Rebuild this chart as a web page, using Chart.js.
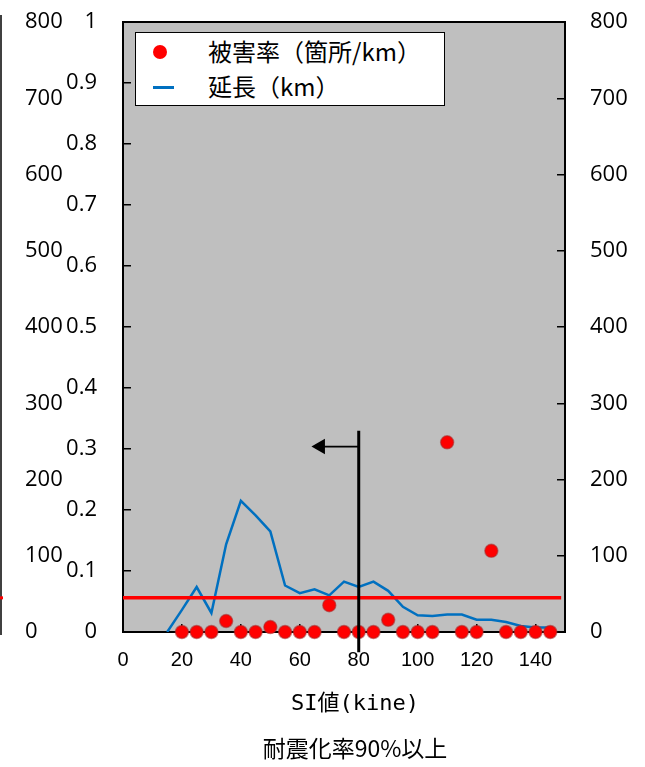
<!DOCTYPE html>
<html>
<head>
<meta charset="utf-8">
<script src="https://cdn.jsdelivr.net/npm/chart.js@4/dist/chart.umd.min.js"></script>
<style>
    html, body { margin: 0; padding: 0; background: #fff; }
    .wrap { position: relative; width: 645px; height: 767px; }
    .legendBox {
        position: absolute; left: 135px; top: 32px; width: 308px; height: 72px;
        background: #fff; border: 1.5px solid #000;
        font-family: "Noto Sans CJK JP", sans-serif; font-size: 24px; color: #000;
    }
    .legendBox .row { position: absolute; left: 0; height: 30px; line-height: 30px; }
    .legendBox .dot { position: absolute; left: 17px; top: 8px; width: 14px; height: 14px; border-radius: 50%; background: #ff0000; }
    .legendBox .dash { position: absolute; left: 17px; top: 14px; width: 21px; height: 3px; background: #0070c0; }
    .legendBox .txt { position: absolute; left: 72px; top: -1px; white-space: nowrap; }
</style>
</head>
<body>
<div class="wrap">
    <canvas id="siChart" width="645" height="767"></canvas>
    <div class="legendBox">
        <div class="row" style="top:4px"><span class="dot"></span><span class="txt">被害率（箇所/km）</span></div>
        <div class="row" style="top:39px"><span class="dash"></span><span class="txt">延長（km）</span></div>
    </div>
</div>
<script>
// SI value classes (kine)
const siValues = [15, 20, 25, 30, 35, 40, 45, 50, 55, 60, 65, 70, 75, 80, 85, 90, 95, 100, 105, 110, 115, 120, 125, 130, 135, 140, 145];
// damage rate (箇所/km), none at 15
const damageRate = [null, 0, 0, 0, 0.018, 0, 0, 0.008, 0, 0, 0, 0.044, 0, 0, 0, 0.02, 0, 0, 0, 0.311, 0, 0, 0.133, 0, 0, 0, 0];
// pipe length (km)
const lengthKm = [0, 29, 59, 25, 115, 172, 153, 132, 61, 51, 56, 48, 66, 59, 66, 54, 33, 22, 21, 23, 23, 16, 16, 13, 8, 6, 6];
// average damage rate line
const avgRateX = [0, 148.7];
const avgRate = 0.056;
// SI = 80 marker with arrow
const markerX = [80, 80];
const markerY = [0.33, -0.033];
const arrowX = [80, 67];
const arrowY = 0.304;

const rateTicks = ['0', '0.1', '0.2', '0.3', '0.4', '0.5', '0.6', '0.7', '0.8', '0.9', '1'];
const kmTicks = ['0', '100', '200', '300', '400', '500', '600', '700', '800'];
const siTicks = ['0', '20', '40', '60', '80', '100', '120', '140'];

const numFont = { family: "'Open Sans', sans-serif", size: 22 };

const plotFrame = {
    id: 'plotFrame',
    beforeDraw(chart) {
        const { ctx, chartArea } = chart;
        ctx.save();
        ctx.fillStyle = '#bfbfbf';
        ctx.fillRect(chartArea.left, chartArea.top, chartArea.width, chartArea.height);
        ctx.restore();
    },
    beforeDatasetsDraw(chart) {
        const { ctx, chartArea } = chart;
        ctx.save();
        ctx.strokeStyle = '#000';
        ctx.lineWidth = 2;
        ctx.strokeRect(chartArea.left, chartArea.top, chartArea.width, chartArea.height);
        // edge of the neighbouring panel on the far left
        ctx.lineWidth = 1.5;
        ctx.beginPath();
        ctx.moveTo(1, chartArea.top - 7);
        ctx.lineTo(1, chartArea.bottom + 3);
        ctx.stroke();
        const yAvg = chart.scales.yRate.getPixelForValue(avgRate);
        ctx.strokeStyle = '#ff0000';
        ctx.lineWidth = 3;
        ctx.beginPath();
        ctx.moveTo(0, yAvg);
        ctx.lineTo(3, yAvg);
        ctx.stroke();
        ctx.restore();
    }
};

function noVPad(scale) {
    scale.paddingTop = 0;
    scale.paddingBottom = 0;
}

const ctx = document.getElementById('siChart').getContext('2d');
new Chart(ctx, {
    type: 'line',
    data: {
        datasets: [
            {
                label: 'marker',
                data: markerX.map((x, i) => ({ x: x, y: markerY[i] })),
                yAxisID: 'yRate',
                borderColor: '#000',
                borderWidth: 3,
                pointRadius: 0,
                clip: false,
                order: 0
            },
            {
                label: 'arrow',
                data: arrowX.map(x => ({ x: x, y: arrowY })),
                yAxisID: 'yRate',
                borderColor: '#000',
                borderWidth: 1.8,
                pointStyle: 'triangle',
                pointRotation: -90,
                pointRadius: [0, 9],
                backgroundColor: '#000',
                pointBorderWidth: 0,
                order: 0
            },
            {
                label: '被害率（箇所/km）',
                data: siValues.map((x, i) => ({ x: x, y: damageRate[i] })),
                yAxisID: 'yRate',
                showLine: false,
                pointRadius: 6.5,
                pointBackgroundColor: '#ff0000',
                pointBorderColor: 'rgba(170, 40, 40, 0.55)',
                pointBorderWidth: 1.5,
                clip: false,
                order: 1
            },
            {
                label: 'avg',
                data: avgRateX.map(x => ({ x: x, y: avgRate })),
                yAxisID: 'yRate',
                borderColor: '#ff0000',
                borderWidth: 3.5,
                pointRadius: 0,
                order: 2
            },
            {
                label: '延長（km）',
                data: siValues.map((x, i) => ({ x: x, y: lengthKm[i] })),
                yAxisID: 'yKm',
                borderColor: '#0070c0',
                borderWidth: 2.5,
                pointRadius: 0,
                tension: 0,
                order: 3
            }
        ]
    },
    options: {
        responsive: false,
        animation: false,
        events: [],
        // right padding is negative so the bottom titles centre where the original had them
        layout: { padding: { top: 22, left: 0, right: -65, bottom: 0 } },
        plugins: {
            legend: { display: false },
            tooltip: { enabled: false },
            title: {
                display: true,
                position: 'bottom',
                text: '耐震化率90%以上',
                color: '#000',
                font: { family: "'Noto Sans CJK JP', sans-serif", size: 23, weight: 'normal' },
                padding: { top: 0, bottom: 5 }
            },
            subtitle: {
                display: true,
                position: 'bottom',
                text: 'SI値(kine)',
                color: '#000',
                font: { family: "'DejaVu Sans Mono', 'Noto Sans CJK JP', monospace", size: 22, weight: 'normal' },
                padding: { top: 0, bottom: 17 }
            }
        },
        scales: {
            x: {
                type: 'linear',
                min: 0,
                max: 150,
                border: { display: false },
                grid: { drawOnChartArea: false, tickLength: -8, color: '#000', lineWidth: 1.5 },
                ticks: {
                    stepSize: 20,
                    includeBounds: false,
                    padding: 24,
                    color: '#000',
                    font: { family: "'Liberation Sans', sans-serif", size: 20 },
                    callback: (v, i) => siTicks[i]
                },
                afterFit: scale => { scale.height = 59; }
            },
            yRate: {
                type: 'linear',
                position: 'left',
                weight: 0,
                min: 0,
                max: 1,
                border: { display: false },
                grid: { drawOnChartArea: false, tickLength: -8, color: '#000', lineWidth: 1.5 },
                ticks: {
                    stepSize: 0.1,
                    padding: 34,
                    color: '#000',
                    font: numFont,
                    callback: (v, i) => rateTicks[i]
                },
                afterFit: scale => { scale.width = 121; noVPad(scale); }
            },
            yFar: {
                type: 'linear',
                position: 'left',
                weight: 1,
                min: 0,
                max: 800,
                border: { display: false },
                grid: { display: false },
                ticks: {
                    stepSize: 100,
                    mirror: true,
                    padding: 23,
                    color: '#000',
                    font: numFont,
                    callback: (v, i) => kmTicks[i]
                },
                afterFit: scale => { scale.width = 2; noVPad(scale); }
            },
            yKm: {
                type: 'linear',
                position: 'right',
                min: 0,
                max: 800,
                border: { display: false },
                grid: { drawOnChartArea: false, tickLength: -8, color: '#000', lineWidth: 1.5 },
                ticks: {
                    stepSize: 100,
                    padding: 33,
                    color: '#000',
                    font: numFont,
                    callback: (v, i) => kmTicks[i]
                },
                afterFit: scale => { scale.width = 145; noVPad(scale); }
            }
        }
    },
    plugins: [plotFrame]
});
</script>
</body>
</html>
